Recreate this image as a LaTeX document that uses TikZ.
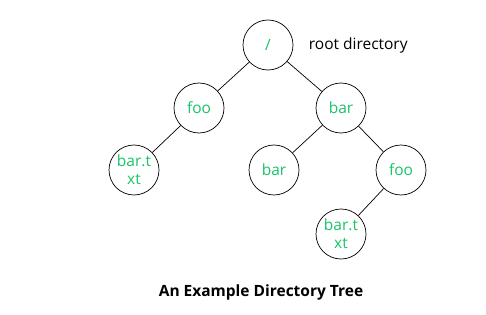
\documentclass[tikz,border=0pt]{standalone}
\usepackage{fontspec}
\setmainfont{Open Sans}
\usepackage{xcolor}
\usepackage{tikz}
\usetikzlibrary{positioning}

\definecolor{dirgreen}{RGB}{25,195,105}

\begin{document}
\begin{tikzpicture}[
  x=1pt, y=-1pt,
  every node/.style={font=\fontsize{15.5}{18}\selectfont},
  dir/.style={circle, draw, line width=0.7pt, minimum size=50pt, inner sep=0pt,
              align=center, text=dirgreen, font=\fontsize{15.5}{18}\selectfont},
  edge/.style={line width=0.7pt},
]
\useasboundingbox (0,0) rectangle (486,315);
% --- directory nodes
\node[dir] (root)   at (268,45)  {/};
\node[dir] (foo)    at (199,108) {foo};
\node[dir] (bar)    at (341,108) {bar};
\node[dir] (bartxt) at (134,170) {bar.t\\[0pt]xt};
\node[dir] (barb)   at (274,170) {bar};
\node[dir] (foob)   at (401,170) {foo};
\node[dir] (bartxtb) at (341,234) {bar.t\\[0pt]xt};
% --- tree edges
\draw[edge] (root) -- (foo);
\draw[edge] (root) -- (bar);
\draw[edge] (foo) -- (bartxt);
\draw[edge] (bar) -- (barb);
\draw[edge] (bar) -- (foob);
\draw[edge] (foob) -- (bartxtb);
% --- labels
\node[right=12pt of root] (rootlabel) {root directory};
\node[font=\bfseries\fontsize{15.5}{18}\selectfont] (caption) at (261,292) {An Example Directory Tree};
\end{tikzpicture}
\end{document}
